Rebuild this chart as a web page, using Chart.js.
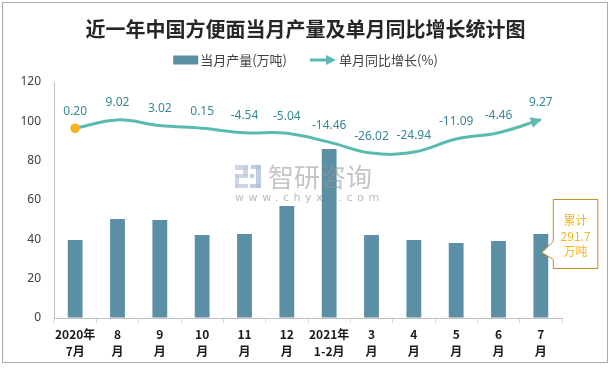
<!DOCTYPE html>
<html><head><meta charset="utf-8">
<script src="https://cdn.jsdelivr.net/npm/chart.js@4/dist/chart.umd.min.js"></script>
<style>html,body{margin:0;padding:0;background:#fff;}canvas{display:block;}</style>
</head><body>
<canvas id="c" width="611" height="368"></canvas>
<script>
// ---- data ----
const categories = [['2020年','7月'],['8','月'],['9','月'],['10','月'],['11','月'],['12','月'],['2021年','1-2月'],['3','月'],['4','月'],['5','月'],['6','月'],['7','月']];
const outputValues = [39.7, 50.3, 49.8, 42.2, 42.7, 56.9, 85.9, 42.2, 39.7, 38.1, 39.1, 42.7];
const growthValues = [0.20, 9.02, 3.02, 0.15, -4.54, -5.04, -14.46, -26.02, -24.94, -11.09, -4.46, 9.27];
const leftTickStep = 20;
const leftMin = 0, leftMax = 120;
const seriesNames = ['当月产量(万吨)', '单月同比增长(%)'];
const titleText = '近一年中国方便面当月产量及单月同比增长统计图';
const calloutLines = ['累计', '291.7', '万吨'];
const watermarkTexts = ['智研咨询', 'www.chyxx.com'];

// ---- styles ----
const BAR = '#5b8fa6';
const LINE = '#5bbab0';
const LABEL = '#358896';
const GOLD = '#f5b41e';
const CJK = '"Noto Sans CJK SC", "Noto Sans", sans-serif';
const n = growthValues.length;

const framePlugin = {
  id: 'frame',
  beforeDraw(chart) {
    const ctx = chart.ctx;
    ctx.save();
    ctx.fillStyle = '#fff';
    ctx.fillRect(0, 0, chart.width, chart.height);
    ctx.strokeStyle = '#aaaaaa';
    ctx.lineWidth = 1;
    ctx.strokeRect(2.5, 2.5, 605, 360);
    ctx.restore();
  }
};

const legendPlugin = {
  id: 'customLegend',
  afterDraw(chart) {
    const ctx = chart.ctx;
    ctx.save();
    ctx.font = '13px ' + CJK;
    const ds = chart.data.datasets;
    const w1 = ctx.measureText(ds[0].label).width;
    const w2 = ctx.measureText(ds[1].label).width;
    const total = 25 + 2 + w1 + 23 + 26 + 3 + w2;
    let x = chart.width / 2 - total / 2;
    const y = 60;
    ctx.fillStyle = ds[0].backgroundColor;
    ctx.fillRect(x, y - 4.5, 25, 9);
    x += 27;
    ctx.fillStyle = '#404040';
    ctx.textBaseline = 'middle';
    ctx.textAlign = 'left';
    ctx.fillText(ds[0].label, x, y);
    x += w1 + 23;
    ctx.strokeStyle = ds[1].borderColor;
    ctx.lineWidth = 3;
    ctx.beginPath();
    ctx.moveTo(x, y);
    ctx.lineTo(x + 18, y);
    ctx.stroke();
    ctx.fillStyle = ds[1].borderColor;
    ctx.beginPath();
    ctx.moveTo(x + 26, y);
    ctx.lineTo(x + 16, y - 5);
    ctx.lineTo(x + 16, y + 5);
    ctx.closePath();
    ctx.fill();
    x += 29;
    ctx.fillStyle = '#404040';
    ctx.fillText(ds[1].label, x, y);
    ctx.restore();
  }
};

const labelPlugin = {
  id: 'lineLabels',
  afterDatasetsDraw(chart) {
    const ctx = chart.ctx;
    const meta = chart.getDatasetMeta(1);
    ctx.save();
    const last = meta.data[n - 1];
    const dx = last.x - last.cp1x, dy = last.y - last.cp1y;
    const ang = Math.atan2(dy, dx);
    ctx.translate(last.x, last.y);
    ctx.rotate(ang);
    ctx.fillStyle = LINE;
    ctx.beginPath();
    ctx.moveTo(1, 0);
    ctx.lineTo(-10, -5.5);
    ctx.lineTo(-10, 5.5);
    ctx.closePath();
    ctx.fill();
    ctx.setTransform(1, 0, 0, 1, 0, 0);
    ctx.font = '12px "Noto Sans", sans-serif';
    ctx.fillStyle = LABEL;
    ctx.textAlign = 'center';
    ctx.textBaseline = 'middle';
    meta.data.forEach((el, i) => {
      ctx.fillText(growthValues[i].toFixed(2), el.x, el.y - 17);
    });
    ctx.restore();
  }
};

const watermarkPlugin = {
  id: 'watermark',
  afterDatasetsDraw(chart) {
    const ctx = chart.ctx;
    ctx.save();
    ctx.fillStyle = 'rgba(190,202,226,0.75)';
    const ix = 235, iy = 165;
    ctx.fillRect(ix, iy, 13, 5);
    ctx.fillRect(ix + 8, iy, 5, 12);
    ctx.fillRect(ix, iy + 9, 13, 4);
    ctx.fillRect(ix, iy + 9, 4, 14);
    ctx.fillRect(ix, iy + 19, 13, 4);
    ctx.fillStyle = 'rgba(170,190,220,0.75)';
    ctx.fillRect(ix + 16, iy, 10, 4);
    ctx.fillRect(ix + 21, iy, 5, 23);
    ctx.fillRect(ix + 15, iy + 19, 11, 4);
    ctx.fillRect(ix + 15, iy + 9, 4, 4);
    ctx.fillStyle = 'rgba(150,150,150,0.55)';
    ctx.font = '26px ' + CJK;
    ctx.textBaseline = 'middle';
    ctx.textAlign = 'left';
    ctx.fillText(watermarkTexts[0], 268, 177);
    ctx.fillStyle = 'rgba(140,140,140,0.6)';
    ctx.font = '11px "DejaVu Sans", sans-serif';
    ctx.letterSpacing = '4.6px';
    ctx.fillText(watermarkTexts[1], 235, 198);
    ctx.restore();
  }
};

const calloutPlugin = {
  id: 'callout',
  afterDraw(chart) {
    const ctx = chart.ctx;
    const el = chart.getDatasetMeta(0).data[n - 1];
    const ys = chart.scales.y;
    const L = el.x + 12.5, R = L + 44.5;
    const T = Math.round(ys.getPixelForValue(60.6)) + 0.5;
    const B = Math.round(ys.getPixelForValue(25.5)) + 0.5;
    ctx.save();
    ctx.beginPath();
    ctx.moveTo(L, T);
    ctx.lineTo(R, T);
    ctx.lineTo(R, B);
    ctx.lineTo(L, B);
    ctx.lineTo(L, B - 9);
    ctx.lineTo(el.x + 1, B - 16);
    ctx.lineTo(L, B - 27);
    ctx.closePath();
    ctx.fillStyle = '#fff';
    ctx.fill();
    ctx.strokeStyle = '#bf9320';
    ctx.lineWidth = 1;
    ctx.stroke();
    ctx.fillStyle = GOLD;
    ctx.font = '12px ' + CJK;
    ctx.textAlign = 'center';
    ctx.textBaseline = 'middle';
    const cx = (L + R) / 2;
    calloutLines.forEach((t, i) => ctx.fillText(t, cx, T + 21 + i * 15.5));
    ctx.restore();
  }
};

new Chart(document.getElementById('c'), {
  data: {
    labels: categories,
    datasets: [
      {
        type: 'bar', label: seriesNames[0], data: outputValues, backgroundColor: BAR,
        yAxisID: 'y', barPercentage: 0.35, categoryPercentage: 1, order: 1
      },
      {
        type: 'line', label: seriesNames[1], data: growthValues, yAxisID: 'y1',
        borderColor: LINE, borderWidth: 3, tension: 0.4, fill: false,
        pointRadius: growthValues.map((v, i) => i === 0 ? 4.8 : 0),
        pointBackgroundColor: GOLD, pointBorderWidth: 0, order: 0
      }
    ]
  },
  options: {
    responsive: false, animation: false, devicePixelRatio: 1,
    layout: { padding: { left: 0, right: 0, top: 0, bottom: 0 } },
    plugins: {
      legend: { display: false },
      tooltip: { enabled: false },
      title: {
        display: true, text: titleText, color: '#262626',
        font: { family: CJK, size: 20, weight: 'bold' },
        padding: { top: 17, bottom: 41 }
      }
    },
    scales: {
      x: {
        grid: { display: true, drawOnChartArea: false, offset: true, tickLength: 5, color: '#d9d9d9' },
        border: { color: '#bfbfbf' },
        ticks: { padding: 3.5, autoSkip: false, maxRotation: 0, color: '#1a1a1a',
          font: { family: CJK, size: 12, weight: 'bold', lineHeight: 1.4 } },
        afterFit(s) { s.height = 50; }
      },
      y: {
        min: leftMin, max: leftMax,
        ticks: { stepSize: leftTickStep, padding: 13, color: '#404040',
          font: { family: '"Noto Sans", sans-serif', size: 12 } },
        grid: { drawOnChartArea: false, drawTicks: false },
        border: { color: '#bfbfbf' },
        afterFit(s) { s.width = 54; }
      },
      y1: {
        display: true, position: 'right', min: -200, max: 49,
        ticks: { display: false },
        grid: { display: false, drawTicks: false },
        border: { display: false },
        afterFit(s) { s.width = 49; }
      }
    }
  },
  plugins: [framePlugin, legendPlugin, labelPlugin, watermarkPlugin, calloutPlugin]
});
</script>
</body></html>
